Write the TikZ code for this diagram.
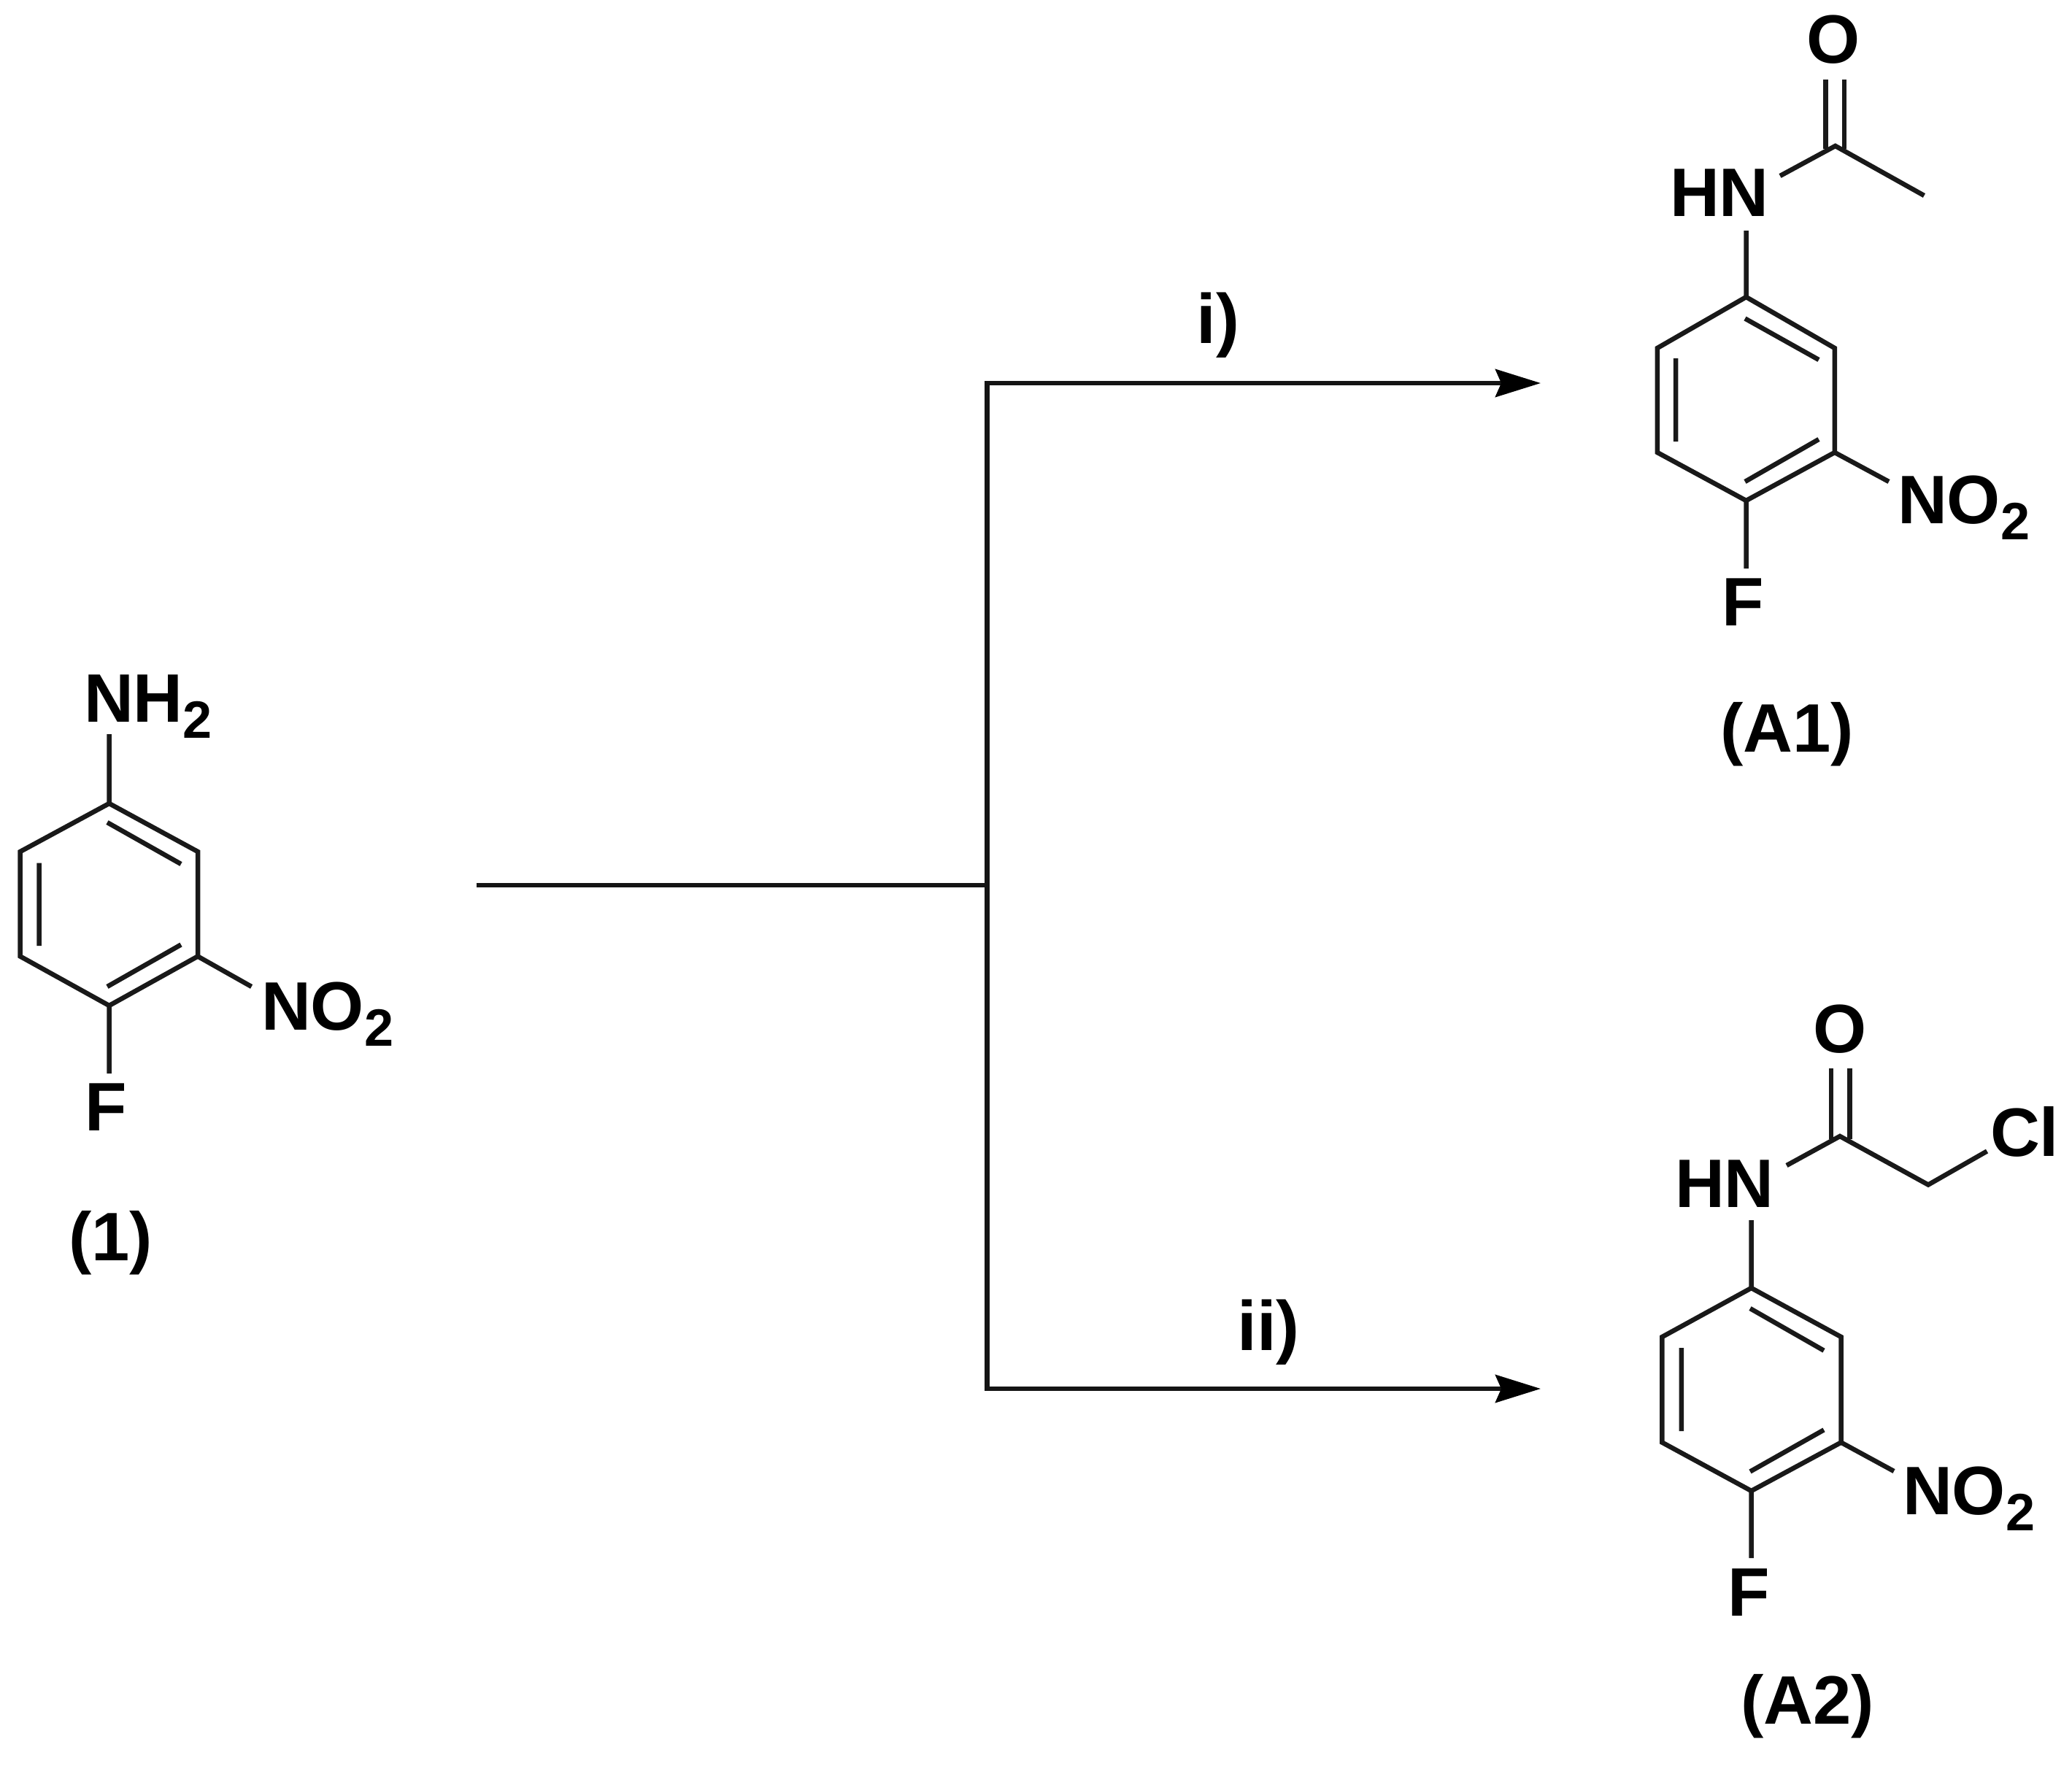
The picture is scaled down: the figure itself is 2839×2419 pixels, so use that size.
\documentclass[tikz,border=0pt]{standalone}
\usepackage{fontspec}
\setmainfont{Liberation Sans}[BoldFont={Liberation Sans Bold}]
\usetikzlibrary{arrows.meta}
\newcommand{\subtwo}{\raisebox{-22pt}{\fontsize{72}{72}\selectfont 2}}
\tikzset{
  atom/.style={anchor=base west,inner sep=0pt,outer sep=0pt,font=\fontsize{94}{94}\selectfont\bfseries},
  lbl/.style={anchor=base,inner sep=0pt,outer sep=0pt,font=\fontsize{96}{96}\selectfont\bfseries},
  bond/.style={line width=6.5pt,line cap=butt,line join=miter,color=black!90},
  rxn/.style={line width=6.5pt,line join=miter,color=black!92,
    {Stealth[length=62pt,width=38pt,inset=8pt,color=black]}-{Stealth[length=62pt,width=38pt,inset=8pt,color=black]}},
  rxnstem/.style={line width=6.5pt,color=black!92}
}
\begin{document}
\begin{tikzpicture}[x=1pt,y=-1pt]
\useasboundingbox[fill=white] (0,0) rectangle (2839,2419);
% ---------- Compound 1
\coordinate (a1) at (149.6,1101);
\coordinate (a2) at (271,1167);
\coordinate (a3) at (271,1310.5);
\coordinate (a4) at (149.6,1378);
\coordinate (a5) at (27.7,1310.5);
\coordinate (a6) at (27.7,1167);
\coordinate (aN) at (149.6,1006);
\coordinate (aNO) at (344.6,1352);
\coordinate (aF) at (149.6,1471);
\coordinate (ai1) at (147,1127);
\coordinate (ai2) at (248,1184);
\coordinate (ai3) at (248,1294.5);
\coordinate (ai4) at (147,1352);
\coordinate (ai5) at (53.6,1182.5);
\coordinate (ai6) at (53.6,1296);
\draw[bond] (a1)--(a2)--(a3)--(a4)--(a5)--(a6)--cycle;
\draw[bond] (ai1)--(ai2) (ai3)--(ai4) (ai5)--(ai6);
\draw[bond] (a1)--(aN) (a3)--(aNO) (a4)--(aF);
\node[atom] (tNH) at (115,989) {NH\subtwo};
\node[atom] (tNOa) at (358,1411) {NO\subtwo};
\node[atom] (tFa) at (116,1549) {F};
\node[atom] (t1) at (94,1727) {(1)};
% ---------- Compound A1
\coordinate (b1) at (2392.5,407);
\coordinate (b2) at (2513.8,477);
\coordinate (b3) at (2513.8,620);
\coordinate (b4) at (2392.5,686);
\coordinate (b5) at (2270.8,620);
\coordinate (b6) at (2270.8,477);
\coordinate (bN) at (2392.5,316);
\coordinate (bAm) at (2439,241);
\coordinate (bC) at (2514.7,200);
\coordinate (bMe) at (2636.4,268);
\coordinate (bOl) at (2501.5,109);
\coordinate (bOr) at (2527,109);
\coordinate (bCl) at (2501.5,204);
\coordinate (bCr) at (2527,204);
\coordinate (bNO) at (2588,660);
\coordinate (bF) at (2392.5,779);
\coordinate (bi1) at (2391,436.5);
\coordinate (bi2) at (2492,493);
\coordinate (bi3) at (2492,602);
\coordinate (bi4) at (2391,660);
\coordinate (bi5) at (2296,491);
\coordinate (bi6) at (2296,605);
\draw[bond] (b1)--(b2)--(b3)--(b4)--(b5)--(b6)--cycle;
\draw[bond] (bi1)--(bi2) (bi3)--(bi4) (bi5)--(bi6);
\draw[bond] (b1)--(bN) (b3)--(bNO) (b4)--(bF);
\draw[bond] (bAm)--(bC)--(bMe);
\draw[bond] (bOl)--(bCl) (bOr)--(bCr);
\node[atom] (tHNb) at (2288,296) {HN};
\node[atom] (tOb) at (2475.5,87) {O};
\node[atom] (tNOb) at (2600,717) {NO\subtwo};
\node[atom] (tFb) at (2359,857.5) {F};
\node[atom] (tA1) at (2357,1030) {(A1)};
% ---------- Compound A2
\coordinate (c1) at (2399.6,1765);
\coordinate (c2) at (2522.6,1832);
\coordinate (c3) at (2522.6,1976.6);
\coordinate (c4) at (2399.6,2043);
\coordinate (c5) at (2277.4,1976.6);
\coordinate (c6) at (2277.4,1832);
\coordinate (cN) at (2399.6,1672);
\coordinate (cAm) at (2448,1597);
\coordinate (cC) at (2521,1557);
\coordinate (cCH) at (2642,1623.5);
\coordinate (cClb) at (2722.5,1577.5);
\coordinate (cOl) at (2509,1464);
\coordinate (cOr) at (2534.4,1464);
\coordinate (cCl) at (2509,1561);
\coordinate (cCr) at (2534.4,1561);
\coordinate (cNO) at (2595,2016);
\coordinate (cF) at (2399.6,2135);
\coordinate (ci1) at (2398,1793);
\coordinate (ci2) at (2499,1850.7);
\coordinate (ci3) at (2499,1959.4);
\coordinate (ci4) at (2398,2016.5);
\coordinate (ci5) at (2303.8,1847);
\coordinate (ci6) at (2303.8,1961);
\draw[bond] (c1)--(c2)--(c3)--(c4)--(c5)--(c6)--cycle;
\draw[bond] (ci1)--(ci2) (ci3)--(ci4) (ci5)--(ci6);
\draw[bond] (c1)--(cN) (c3)--(cNO) (c4)--(cF);
\draw[bond] (cAm)--(cC)--(cCH)--(cClb);
\draw[bond] (cOl)--(cCl) (cOr)--(cCr);
\node[atom] (tHNc) at (2295,1654.5) {HN};
\node[atom] (tOc) at (2484,1442) {O};
\node[atom] (tCl) at (2727,1584) {Cl};
\node[atom] (tNOc) at (2607,2075) {NO\subtwo};
\node[atom] (tFc) at (2367,2214) {F};
\node[atom] (tA2) at (2385,2362) {(A2)};
% ---------- Reaction arrows
\coordinate (start) at (652.7,1213);
\coordinate (junc) at (1352.6,1213);
\coordinate (topb) at (1352.6,525);
\coordinate (botb) at (1352.6,1903);
\coordinate (tip1) at (2111,525);
\coordinate (tip2) at (2111,1903);
\draw[rxnstem] (start)--(junc);
\draw[rxn] (tip1)--(topb)--(botb)--(tip2);
\node[lbl] (li) at (1669,470) {i)};
\node[lbl] (lii) at (1738,1850) {ii)};
\end{tikzpicture}
\end{document}
